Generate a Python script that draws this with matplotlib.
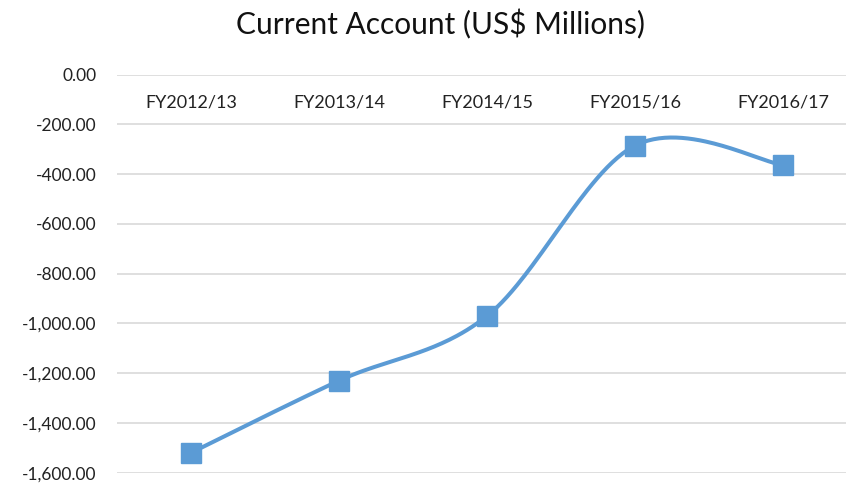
import numpy as np
import matplotlib
matplotlib.use("Agg")
import matplotlib.pyplot as plt

# data
years = ["FY2012/13", "FY2013/14", "FY2014/15", "FY2015/16", "FY2016/17"]
current_account = [-1520, -1230, -970, -285, -363]
y_ticks = [0, -200, -400, -600, -800, -1000, -1200, -1400, -1600]

plt.rcParams['font.family'] = ['Lato', 'DejaVu Sans']
LINE = '#5B9BD5'


def smooth(xs, ys, n=60):
    # Excel-like smoothed line: Catmull-Rom segments as cubic Beziers
    xs = np.asarray(xs, float)
    ys = np.asarray(ys, float)
    px = np.concatenate([[xs[0]], xs, [xs[-1]]])
    py = np.concatenate([[ys[0]], ys, [ys[-1]]])
    out_x, out_y = [], []
    t = np.linspace(0, 1, n)
    for i in range(1, len(px) - 2):
        p0 = np.array([px[i], py[i]])
        p3 = np.array([px[i + 1], py[i + 1]])
        c1 = p0 + (np.array([px[i + 1], py[i + 1]]) - np.array([px[i - 1], py[i - 1]])) / 6
        c2 = p3 - (np.array([px[i + 2], py[i + 2]]) - np.array([px[i], py[i]])) / 6
        b = ((1 - t) ** 3)[:, None] * p0 + (3 * (1 - t) ** 2 * t)[:, None] * c1 \
            + (3 * (1 - t) * t ** 2)[:, None] * c2 + (t ** 3)[:, None] * p3
        out_x.extend(b[:, 0])
        out_y.extend(b[:, 1])
    return out_x, out_y


fig = plt.figure(figsize=(8.46, 4.83), dpi=100)
W, H = 846, 483
left, right = 117, 857
top, bottom = 74.7, 472.7
ax = fig.add_axes([left / W, 1 - bottom / H, (right - left) / W, (bottom - top) / H])

x = np.arange(len(years))
sx, sy = smooth(x, current_account)
ax.plot(sx, sy, color=LINE, lw=2.9, solid_capstyle='round', zorder=3)
ax.plot(x, current_account, linestyle='none', marker='s', markersize=14,
        color=LINE, zorder=4)

ax.set_xlim(-0.5, len(years) - 0.5)
ax.set_ylim(-1600, 0)
ax.set_yticks(y_ticks)
ax.set_yticklabels([f"{v:,.2f}" for v in y_ticks], fontsize=12.5, color='#222222')
ax.tick_params(axis='y', length=0, pad=14.5)
ax.set_xticks([])
ax.grid(axis='y', color='#D9D9D9', lw=1.2)
ax.set_axisbelow(True)
for s in ax.spines.values():
    s.set_visible(False)

# category labels sit just under the zero line
for i, lab in enumerate(years):
    ax.text(i, -110, lab, ha='center', va='center', fontsize=13, color='#222222')

fig.text(440 / W, 1 - 24 / H, "Current Account (US$ Millions)", ha='center',
         va='center', fontsize=21.5, color='#111111')

fig.savefig("out.png", dpi=100)
